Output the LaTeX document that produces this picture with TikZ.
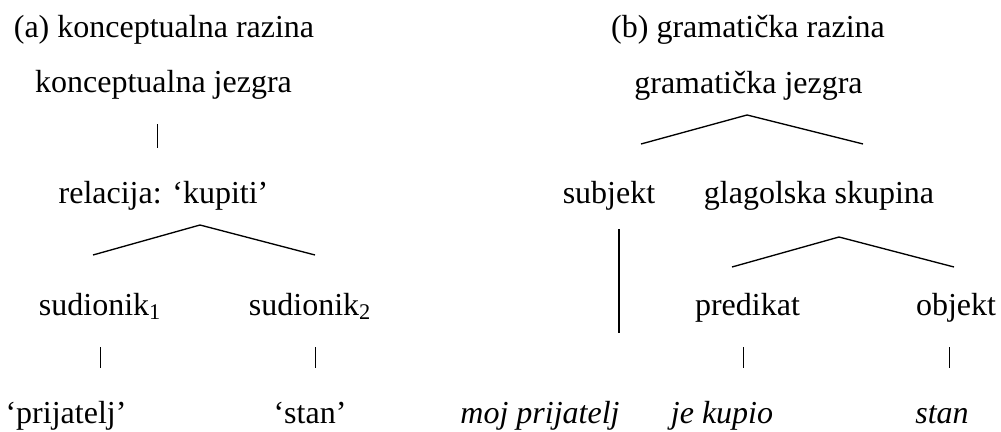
\documentclass[tikz,border=0pt]{standalone}
\usepackage{fontspec}
\setmainfont{Liberation Serif}
\usetikzlibrary{positioning}

\begin{document}
\begin{tikzpicture}[
		x=0.75pt, y=-0.75pt,
		font=\fontsize{24}{28}\selectfont,
		every node/.style = {inner sep=0pt, anchor=base,
			text height=16.5pt, text depth=5.25pt},
		every edge/.style = {draw=black},
		wedge/.style = {draw=black, line width=1pt},
		bar/.style = {line width=0.6pt,
			shorten <=18.75pt, shorten >=24.75pt},
		stem/.style = {draw=black, line width=2pt}
                    ]
		\useasboundingbox (0,0) rectangle (1001,432);

		\node(ta) at (164,37) {(a) konceptualna razina};
		\node(tb) at (748,37) {(b) gramatička razina};
		\node(kj) at (163.5,92) {konceptualna jezgra};
		\node(gj) at (748.5,93) {gramatička jezgra};
		\node(rel) at (163.5,203) {relacija: ‘kupiti’};
		\node(subj) at (609,203) {subjekt};
		\node(gs) at (819,203) {glagolska skupina};
		\node(s1) at (100,315) {sudionik\textsubscript{1}};
		\node(s2) at (310,315) {sudionik\textsubscript{2}};
		\node(pred) at (747.5,315) {predikat};
		\node(obj) at (956,315) {objekt};
		\node(pr) at (66,423) {‘prijatelj’};
		\node(st) at (310,423) {‘stan’};
		\node(mp) at (540,423) {\textit{moj prijatelj}};
		\node(jk) at (722,423) {\textit{je kupio}};
		\node(sn) at (942,423) {\textit{stan}};

		\coordinate(ra) at (200,225);
		\coordinate(rl) at (93,255);
		\coordinate(rr) at (315,255);
		\coordinate(ga) at (747,115);
		\coordinate(gl) at (641,144);
		\coordinate(gr) at (863,144);
		\coordinate(va) at (839,237);
		\coordinate(vl) at (732,267);
		\coordinate(vr) at (954,267);
		\coordinate(sa) at (619,229);
		\coordinate(sb) at (619,333);

		\draw[wedge] (rl) -- (ra) -- (rr);
		\draw[wedge] (gl) -- (ga) -- (gr);
		\draw[wedge] (vl) -- (va) -- (vr);
		\draw[stem] (sa) -- (sb);

		\path   ([xshift=-4.9pt]kj.south) edge [bar] ([xshift=-4.9pt]rel.north)
        		(s1.south) edge [bar] (s1.south |- pr.north)
        		([xshift=3.75pt]s2.south) edge [bar] ([xshift=3.75pt]s2.south |- st.north)
        		([xshift=-3.4pt]pred.south) edge [bar] ([xshift=-3.4pt]pred.south |- jk.north)
        		([xshift=-5.25pt]obj.south) edge [bar] ([xshift=-5.25pt]obj.south |- sn.north);
	\end{tikzpicture}
\end{document}
